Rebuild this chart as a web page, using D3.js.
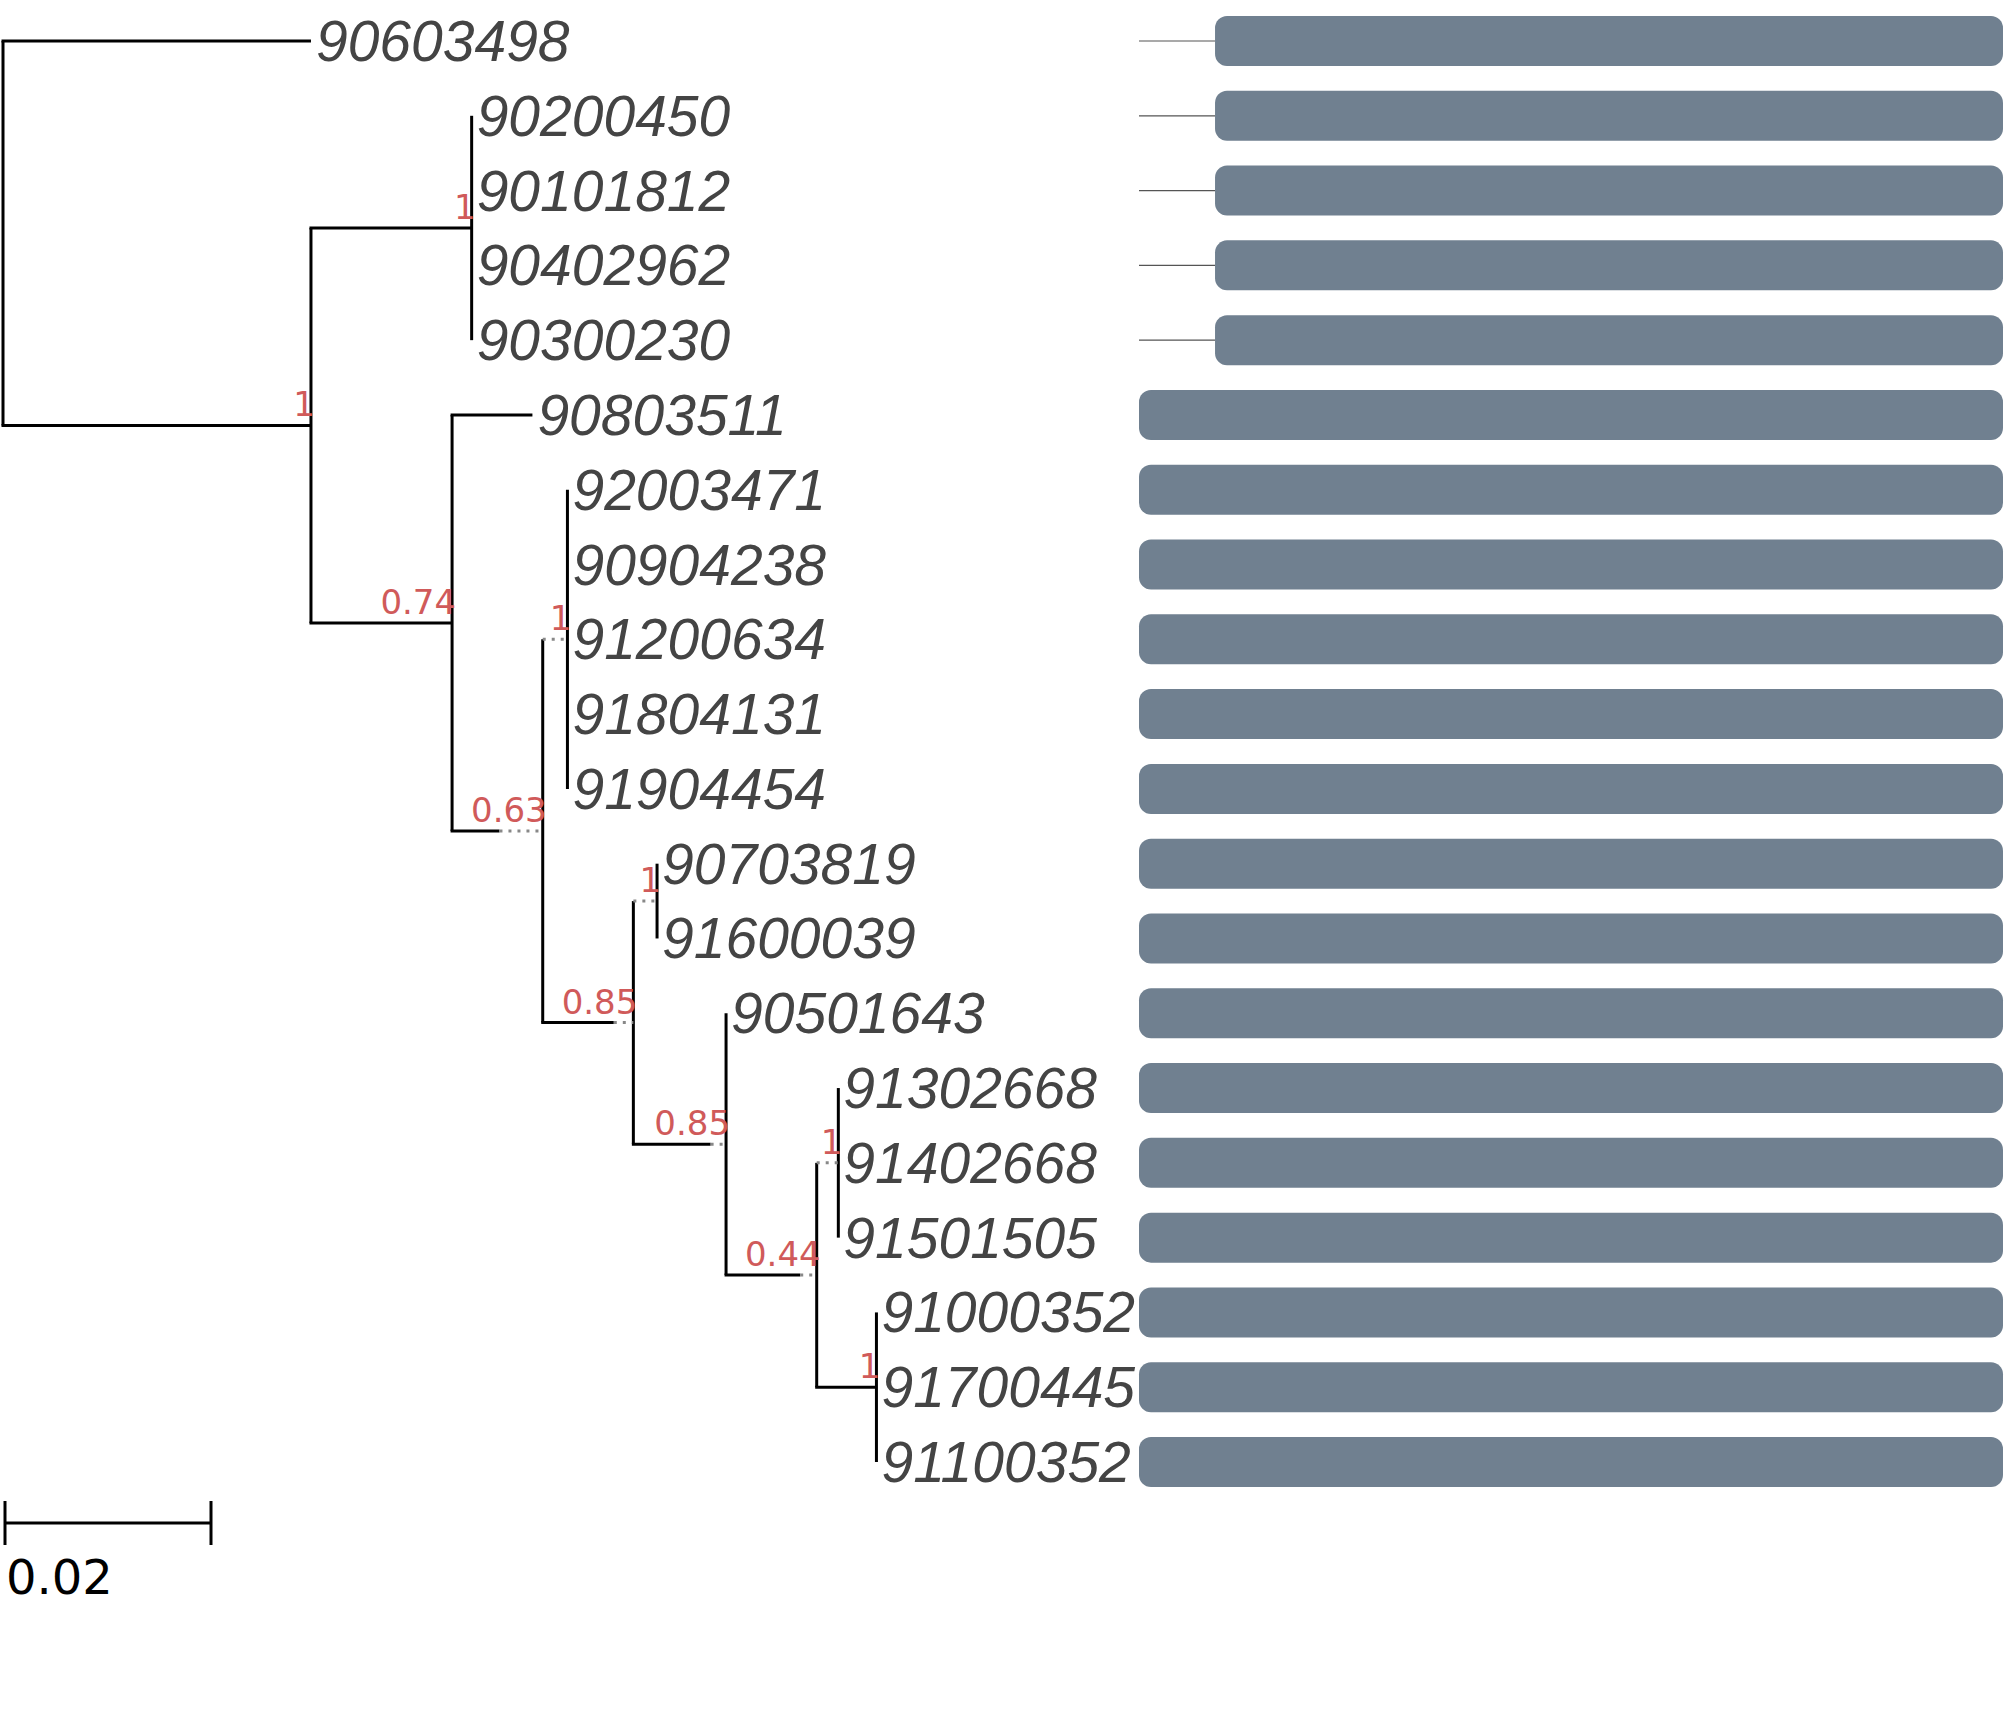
<!DOCTYPE html>
<html><head><meta charset="utf-8">
<script src="https://cdn.jsdelivr.net/npm/d3@7"></script>
<style>body{margin:0;background:#fff}</style>
</head><body>
<svg id="chart" width="2007" height="1710"></svg>
<script>
// tree topology: node, parent, branch length, support, dotted tail of branch
var nodeIds = ["root","90603498","A","B","90200450","90101812","90402962","90300230","C","90803511","D","E","92003471","90904238","91200634","91804131","91904454","F","G","90703819","91600039","H","90501643","I","J","91302668","91402668","91501505","K","91000352","91700445","91100352"];
var parentIds = ["","root","root","A","B","B","B","B","A","C","C","D","E","E","E","E","E","D","F","G","G","F","H","H","I","J","J","J","I","K","K","K"];
var branchLengths = [0,0.0299,0.0299,0.0156,0,0,0,0,0.0137,0.0078,0.0088,0.0024,0,0,0,0,0,0.0088,0.0023,0,0,0.0090,0,0.0088,0.0021,0,0,0,0.0058,0,0,0];
var supports = ["","", "1","1","","","","","0.74","","0.63","1","","","","","","0.85","1","","","0.85","","0.44","1","","","","1","","",""];
var dottedTails = [0,0,0,0,0,0,0,0,0,0,0.0042,0.0024,0,0,0,0,0,0.0019,0.0023,0,0,0.0015,0,0.0016,0.0021,0,0,0,0,0,0,0];
// alignment bars: start fraction of each tip's bar
var barStarts = [0.088,0.088,0.088,0.088,0.088,0,0,0,0,0,0,0,0,0,0,0,0,0,0,0];
var scaleBarValue = 0.02;

var svg = d3.select("#chart");
var rows = nodeIds.map(function(id, i){
    return {id: id, parent: parentIds[i], len: branchLengths[i], support: supports[i], dot: dottedTails[i]};
});
var root = d3.stratify().id(function(d){ return d.id; }).parentId(function(d){ return d.parent || null; })(rows);
root.eachBefore(function(n){ n.depthLen = n.parent ? n.parent.depthLen + n.data.len : 0; });

var leaves = root.leaves();
var x = d3.scaleLinear().domain([0, scaleBarValue]).range([3, 209]);
var y = d3.scalePoint().domain(leaves.map(function(d){ return d.id; })).range([41, 1462]);

root.eachAfter(function(n){
    if (!n.children) n.y = y(n.id);
    else n.y = (n.children[0].y + n.children[n.children.length-1].y) / 2;
    n.x = x(n.depthLen);
});

var g = svg.append("g");
root.descendants().forEach(function(n){
    if (n.children){
        g.append("line").attr("x1", n.x).attr("x2", n.x)
            .attr("y1", n.children[0].y).attr("y2", n.children[n.children.length-1].y)
            .attr("stroke", "#000").attr("stroke-width", 3);
    }
    if (n.parent){
        var px = n.parent.x, solidEnd = x(n.depthLen - n.data.dot);
        if (solidEnd > px + 0.5)
            g.append("line").attr("x1", px - 1.5).attr("x2", solidEnd).attr("y1", n.y).attr("y2", n.y)
                .attr("stroke", "#000").attr("stroke-width", 3);
        if (n.data.dot > 0)
            g.append("line").attr("x1", solidEnd).attr("x2", n.x).attr("y1", n.y).attr("y2", n.y)
                .attr("stroke", "#888").attr("stroke-width", 3).attr("stroke-dasharray", "3,6");
    }
    if (n.data.support){
        g.append("text").attr("x", n.x + 4).attr("y", n.y - 9)
            .attr("text-anchor", "end").style("font-family", "DejaVu Sans")
            .style("font-size", "34px").style("fill", "#d05a5a").text(n.data.support);
    }
});

g.selectAll(".tip").data(leaves).enter().append("text")
    .attr("x", function(d){ return d.x + 5; })
    .attr("y", function(d){ return d.y + 20; })
    .style("font-family", "Liberation Sans").style("font-style", "italic")
    .style("font-size", "57px").style("fill", "#444")
    .text(function(d){ return d.id; });

// bars
var bx = d3.scaleLinear().domain([0, 1]).range([1139, 2003]);
var bars = svg.append("g");
leaves.forEach(function(d, i){
    var s = barStarts[i];
    if (s > 0)
        bars.append("line").attr("x1", bx(0)).attr("x2", bx(s)).attr("y1", d.y).attr("y2", d.y)
            .attr("stroke", "#555").attr("stroke-width", 1.2);
    bars.append("rect").attr("x", bx(s)).attr("y", d.y - 25).attr("width", bx(1) - bx(s)).attr("height", 50)
        .attr("rx", 12).attr("fill", "slategray");
});

// scale bar
var sb = svg.append("g").attr("stroke", "#000").attr("stroke-width", 3);
sb.append("line").attr("x1", x(0) + 2).attr("x2", x(scaleBarValue) + 2).attr("y1", 1523).attr("y2", 1523);
sb.append("line").attr("x1", x(0) + 2).attr("x2", x(0) + 2).attr("y1", 1501).attr("y2", 1545);
sb.append("line").attr("x1", x(scaleBarValue) + 2).attr("x2", x(scaleBarValue) + 2).attr("y1", 1501).attr("y2", 1545);
svg.append("text").attr("x", 6).attr("y", 1594).style("font-family", "DejaVu Sans")
    .style("font-size", "48px").style("fill", "#000").text(scaleBarValue);
</script>
</body></html>
